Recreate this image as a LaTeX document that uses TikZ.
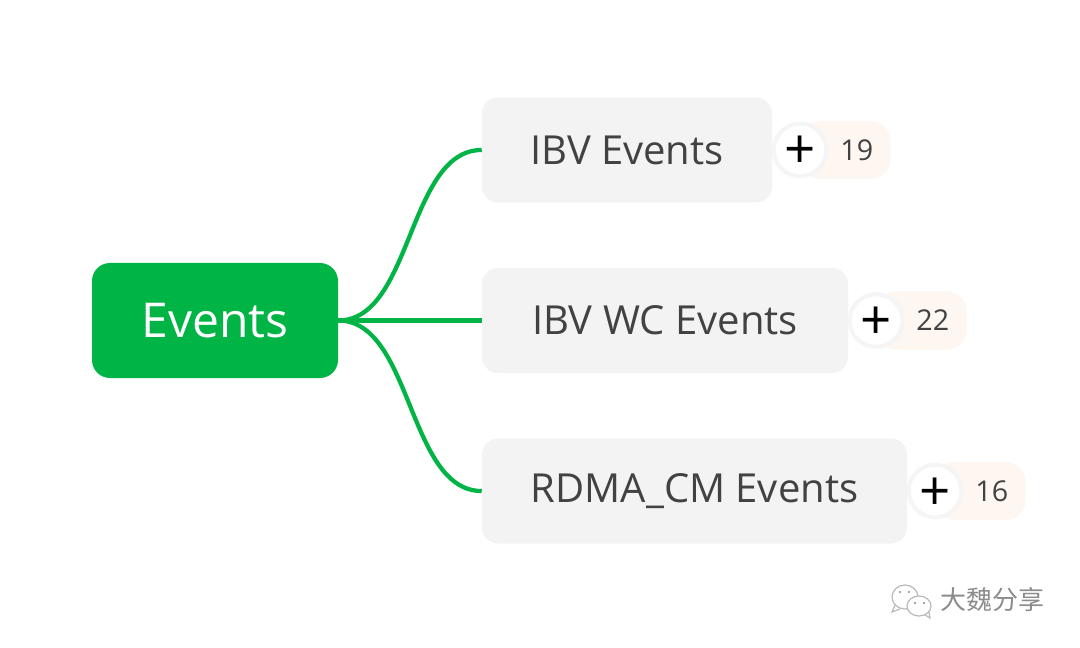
\documentclass[tikz,border=0pt]{standalone}
\usepackage{fontspec}
\setmainfont{Open Sans}
\newfontfamily\cjkfont{Noto Sans CJK SC}
\usetikzlibrary{positioning}
\definecolor{rootgreen}{RGB}{0,181,69}
\definecolor{leafgray}{RGB}{243,243,243}
\definecolor{leaftext}{RGB}{66,66,66}
\definecolor{pillpeach}{RGB}{253,246,241}
\definecolor{ringgray}{RGB}{245,245,245}
\definecolor{markgray}{RGB}{140,140,140}

\begin{document}
\begin{tikzpicture}[x=0.75pt,y=-0.75pt,% one unit is one pixel of the reference
		root/.style={
			rectangle,rounded corners=13.5pt,fill=rootgreen,text=white,
			minimum width=184.5pt,minimum height=86.25pt,
			inner sep=0pt,font=\fontsize{36}{42}\selectfont
		},
		leaf/.style={
			rectangle,rounded corners=12pt,fill=leafgray,text=leaftext,
			minimum height=78.75pt,inner sep=0pt,
			font=\fontsize{30}{35}\selectfont
		},
		plus/.style={
			circle,draw=ringgray,line width=3pt,fill=white,text=black,
			minimum size=39.5pt,inner sep=0pt,text height=28.5pt,text depth=0pt,
			font=\fontsize{41}{41}\selectfont
		},
		count/.style={
			rectangle,rounded corners=15pt,fill=pillpeach,text=leaftext,
			minimum height=43.5pt,text width=41.5pt,align=right,
			inner xsep=13pt,inner ysep=0pt,
			font=\fontsize{21.5}{25}\selectfont
		},
		branch/.style={draw=rootgreen,line width=3.2pt},
		every edge/.style={branch}
	]
	\useasboundingbox (0,0) rectangle (1080,648);
	\fill[white] (0,0) rectangle (1080,648);

	\node[root](R1) at (215,320.5){Events};
	\node[leaf,minimum width=274.5pt](R3)[right=107.6pt of R1]{IBV WC Events};
	\node[leaf,minimum width=217.5pt](R2)[above=48.75pt of R3.north west,anchor=south west]{IBV Events};
	\node[leaf,minimum width=318.75pt](R4)[below=48.75pt of R3.south west,anchor=north west]{RDMA\_CM Events};

	% counters go first, the round buttons lie on top of them
	\node[count](C2)[right=21pt of R2]{19};
	\node[count](C3)[right=21pt of R3]{22};
	\node[count](C4)[right=21pt of R4]{16};
	\node[plus](P2)[right=-.4pt of R2]{+};
	\node[plus](P3)[right=-.4pt of R3]{+};
	\node[plus](P4)[right=-.4pt of R4]{+};

	\path
	(R1.east)edge [out=0,in=180,looseness=.85] (R2.west)
	(R1.east)edge [] (R3.west)
	(R1.east)edge [out=0,in=180,looseness=.85] (R4.west)
	;

	% watermark in the corner
	\begin{scope}[draw=markgray!60,line width=.9pt,fill=white]
		\draw (905,597) ellipse (13 and 12);
		\draw (895,605) -- (892,612) -- (900,609);
		\filldraw (919,606) ellipse (12 and 10);
		\draw (925,615) -- (930,618) -- (929,612);
		\fill[markgray] (900,592) circle (1.2) (909,592) circle (1.2);
		\fill[markgray] (915,603) circle (1.2) (924,603) circle (1.2);
	\end{scope}
	\node[text=markgray,inner sep=0pt,font=\cjkfont\fontsize{19.5}{24}\selectfont](W1) at (992,600){大魏分享};
\end{tikzpicture}
\end{document}
